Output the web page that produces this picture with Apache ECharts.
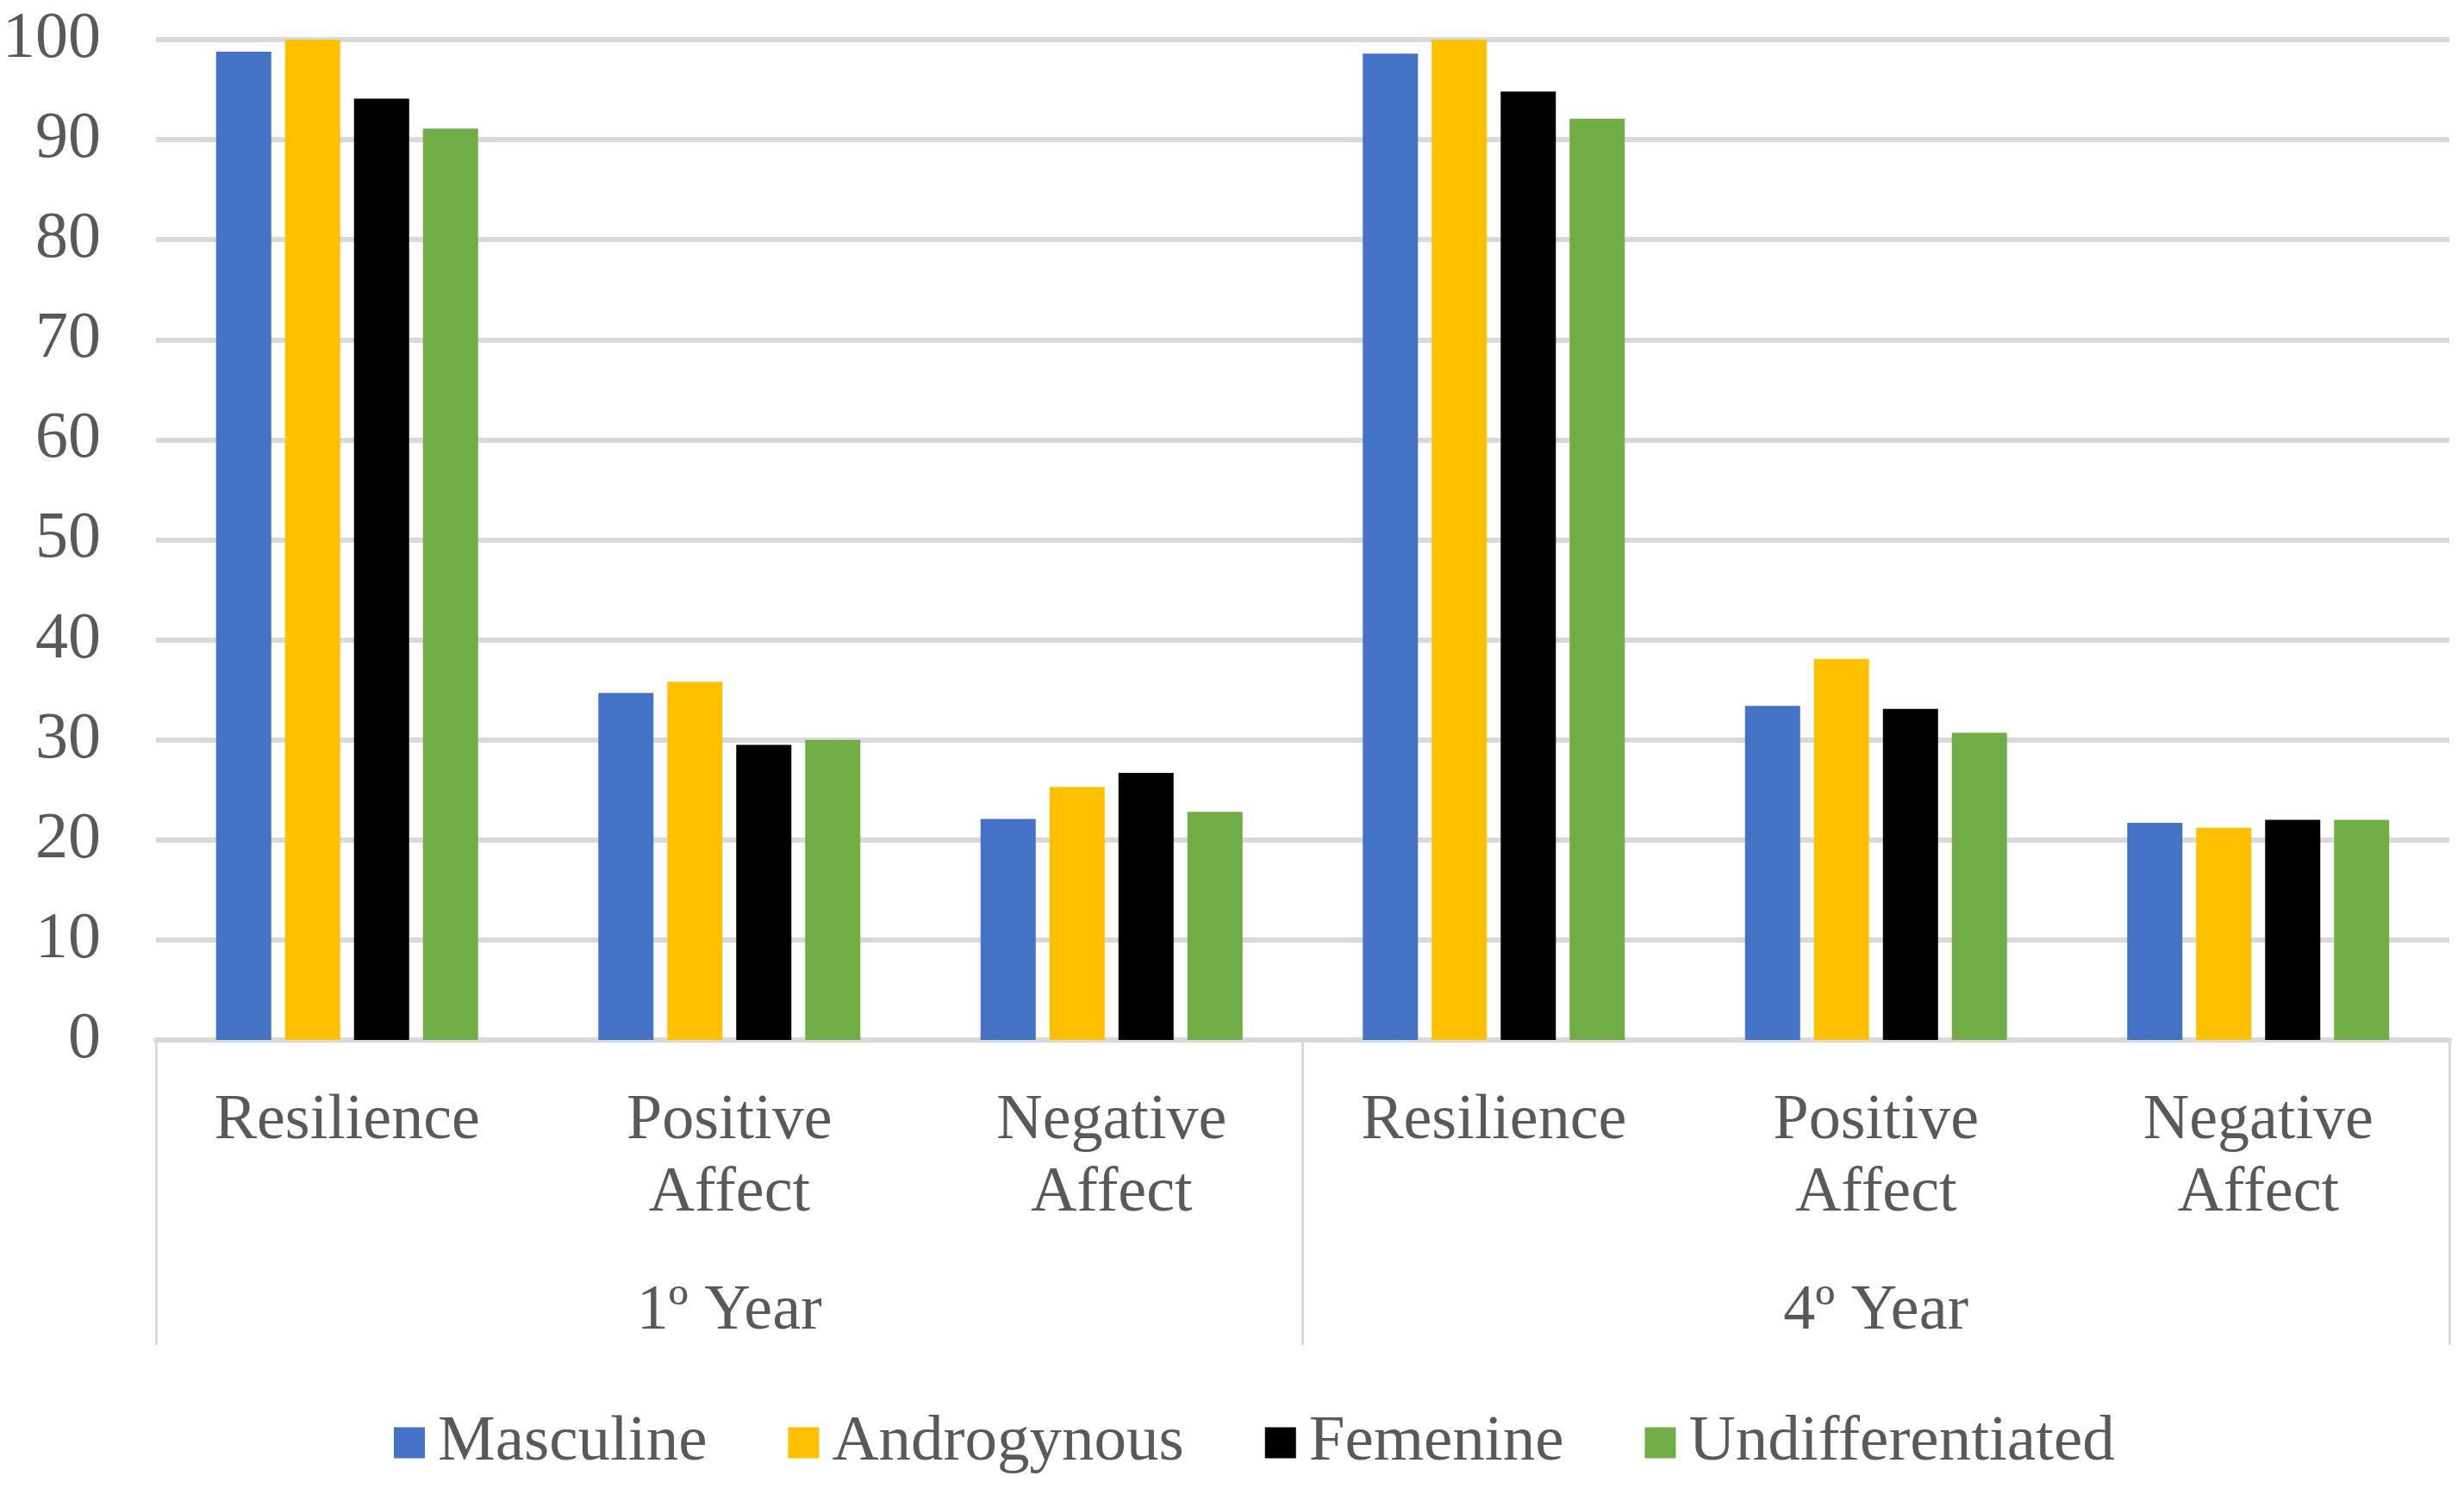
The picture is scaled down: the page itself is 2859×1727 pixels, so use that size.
<!DOCTYPE html>
<html>
<head>
<meta charset="utf-8">
<script src="https://cdn.jsdelivr.net/npm/echarts@6/dist/echarts.min.js"></script>
<style>html,body{margin:0;padding:0;background:#fff;}#c{width:2859px;height:1727px;}</style>
</head>
<body>
<div id="c"></div>
<script>
const categories = ['Resilience', 'Positive\nAffect', 'Negative\nAffect', 'Resilience', 'Positive\nAffect', 'Negative\nAffect'];
const groups = ['1º Year', '4º Year'];
const seriesNames = ['Masculine', 'Androgynous', 'Femenine', 'Undifferentiated'];
const masculine = [98.8, 34.7, 22.1, 98.6, 33.4, 21.7];
const androgynous = [100.0, 35.8, 25.3, 100.0, 38.1, 21.2];
const femenine = [94.1, 29.5, 26.7, 94.8, 33.1, 22.0];
const undifferentiated = [91.1, 30.0, 22.8, 92.1, 30.7, 22.0];
const yTicks = [0, 100, 10];

const colors = ['#4472C4', '#FFC000', '#000000', '#70AD47'];
const font = '"Liberation Serif", "Times New Roman", serif';
const textColor = '#595959';
const values = [masculine, androgynous, femenine, undifferentiated];

const chart = echarts.init(document.getElementById('c'));
chart.setOption({
  animation: false,
  backgroundColor: '#ffffff',
  color: colors,
  textStyle: { fontFamily: font },
  grid: { left: 181, right: 17, top: 46, bottom: 520 },
  legend: {
    data: seriesNames,
    left: 452,
    top: 1632,
    icon: 'rect',
    itemWidth: 36,
    itemHeight: 36,
    itemGap: 94,
    textStyle: { fontFamily: font, fontSize: 75, color: textColor, padding: [0, 0, 0, 10] }
  },
  xAxis: [
    {
      type: 'category',
      data: categories,
      position: 'bottom',
      axisLine: { show: true, lineStyle: { color: '#d9d9d9', width: 6 } },
      axisTick: { show: false },
      axisLabel: { interval: 0, margin: 53, fontFamily: font, fontSize: 74, lineHeight: 84, color: textColor, align: 'center' },
      splitLine: { show: false }
    },
    {
      type: 'category',
      data: groups,
      position: 'bottom',
      gridIndex: 0,
      axisLine: { show: false },
      axisTick: { show: true, length: 354, interval: 0, lineStyle: { color: '#d9d9d9', width: 3 } },
      axisLabel: { interval: 0, margin: 274, fontFamily: font, fontSize: 74, lineHeight: 84, color: textColor },
      splitLine: { show: false }
    }
  ],
  yAxis: {
    type: 'value',
    min: yTicks[0],
    max: yTicks[1],
    interval: yTicks[2],
    axisLine: { show: false },
    axisTick: { show: false },
    axisLabel: { margin: 64, fontFamily: font, fontSize: 76, color: textColor },
    splitLine: { show: true, lineStyle: { color: '#d9d9d9', width: 6 } }
  },
  series: seriesNames.map((name, i) => ({
    name: name,
    type: 'bar',
    xAxisIndex: 0,
    data: values[i],
    barWidth: 64,
    barGap: '25%',
    itemStyle: { color: colors[i] }
  }))
});
</script>
</body>
</html>
